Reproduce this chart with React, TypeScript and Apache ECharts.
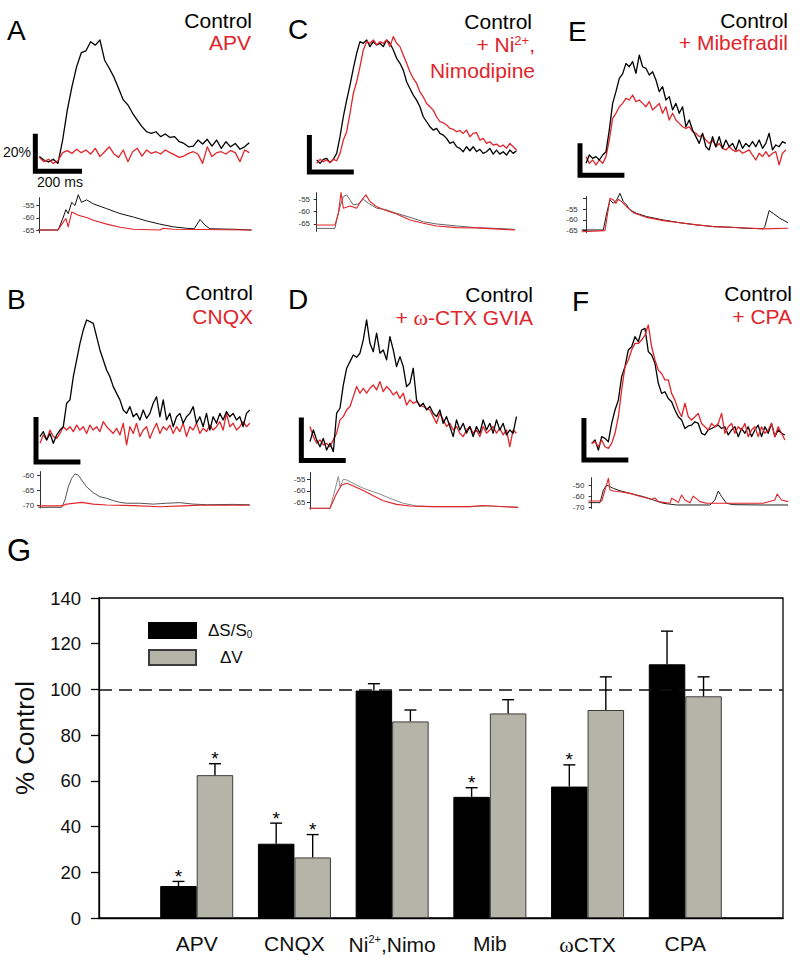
import { useEffect, useRef } from 'react';
import * as echarts from 'echarts';

const RED = '#e1252b';
const FONT = '"Liberation Sans", Arial, Helvetica, sans-serif';
const SCALE_PCT = 20; // vertical scale bar, % dS/S
const SCALE_MS = 200; // horizontal scale bar, ms

// ---------- Panel A : Control vs APV ----------
const A_DT = 20;
const A_CONTROL = [1.8, 0, -1, 0.4, -1.8, 10.6, 26.5, 39, 49.6, 57, 58, 62.8, 61, 63.7, 53, 48.7, 44, 38, 31.9, 29.2, 24.8, 21.2, 17.7, 15, 14.2, 15, 12.4, 13.8, 12, 12.4, 9.7, 8.8, 7, 7.4, 10.6, 8.5, 11, 7.4, 10.6, 6.2, 9.7, 7, 8.8, 5.7, 7, 9.2];
const A_APV = [1.4, -0.9, 0.4, -1.8, -0.4, 3.9, 5, 3.5, 5.7, 3.9, 5.3, 3.2, 6.2, 1.8, 4.4, 7, 3.2, 1.4, 5.3, -0.9, 4.4, 6.2, 2.1, 5.3, 3.5, 4.4, 3.2, 5.3, 3.9, 2.7, 1.4, 2.1, 3.5, 4.4, 3.2, -1.8, 7, 1.8, 3.9, 4.4, 3.2, 5, 3.9, -0.9, 5.3, 3.9];
const A_V_CONTROL = [[-4, -65], [81, -65], [103, -59.7], [114, -56.7], [124, -58.3], [139, -53.7], [153, -55], [167, -50.6], [181, -53.7], [203, -52.7], [231, -54.3], [289, -56.3], [346, -58.3], [403, -59.7], [460, -61.3], [517, -62.6], [574, -63.7], [631, -64.3], [664, -64.5], [689, -60.7], [710, -63], [731, -64.5], [831, -64.7], [910, -65]];
const A_V_APV = [[-4, -65], [81, -65], [103, -61.7], [114, -60.3], [124, -63.7], [139, -57.7], [167, -59], [203, -59.9], [231, -61], [289, -62.6], [346, -63.9], [403, -64.7], [517, -65], [531, -64.3], [574, -64.7], [910, -65]];

// ---------- Panel B : Control vs CNQX ----------
const B_DT = 15;
const B_CONTROL = [-0.7, 1.5, -2.2, 0.7, -3.7, 0, 2.2, 3.7, 14.1, 15.6, 25.9, 33.3, 40.7, 46.7, 51.1, 50.4, 49.6, 43.7, 37.8, 33.3, 28.9, 25.9, 21.5, 18.5, 15.6, 11.1, 9.6, 12.6, 8.1, 9.6, 6.7, 11.1, 7.4, 9.6, 14.1, 17, 8.1, 15.6, 6.7, 9.6, 3.7, 8.1, 9.6, 5.2, 8.1, 9.6, 12.6, 5.2, 8.1, 3.7, 9.6, 2.2, 8.1, 5.2, 9.6, 6.7, 10.4, 8.1, 9.6, 6.7, 8.1, 3.7, 9.6, 11.1];
const B_CNQX = [-3.7, 0, -2.2, 2.2, -0.7, -1.5, 0.7, 3.7, 2.2, 3.7, 1.5, 4.4, 2.2, 3.7, 0.7, 4.4, 2.2, 3.7, 1.5, 5.9, 3.7, 2.2, 0.7, 3, 0, 5.2, -4.4, 3.7, 0.7, 5.2, -0.7, 2.2, 3.7, -1.5, 2.2, 5.2, 0.7, 3.7, 2.2, 4.4, 0.7, 3.7, 1.5, 5.2, -0.7, 3.7, 2.2, 5.2, 0.7, 3, 1.5, 4.4, 2.2, 3.7, 5.9, 2.2, 9.6, 3.7, 5.2, 2.2, 3.7, 5.9, 3.7, 5.2];
const B_V_CONTROL = [[-7.5, -70.8], [97.5, -70.8], [112.5, -68.3], [127.5, -63.8], [142.5, -60.9], [157.5, -59.4], [172.5, -59.8], [187.5, -61.5], [210, -63.8], [240, -65.8], [270, -67.2], [300, -67.7], [330, -68.5], [360, -69.1], [390, -69.4], [450, -69.4], [510, -69.7], [570, -69.4], [630, -69.2], [690, -69.7], [750, -69.9], [870, -69.8], [945, -69.9]];
const B_V_CNQX = [[-7.5, -70.3], [97.5, -70.3], [120, -69.7], [187.5, -69.1], [240, -69.7], [300, -70], [420, -70.2], [540, -70.6], [645, -70.3], [720, -70.1], [945, -70.1]];

// ---------- Panel C : Control vs + Ni2+, Nimodipine ----------
const C_DT = 15;
const C_CONTROL = [0.9, -0.9, 1.3, 1.8, -0.5, 1.3, 4.5, 13.5, 24.3, 33.3, 41.4, 50.5, 58.6, 64.9, 64, 65.8, 62.2, 64.9, 63.1, 64, 62.2, 65.8, 64, 60.4, 55.9, 53.2, 49.5, 43.2, 39.6, 36, 33.3, 29.7, 24.3, 21.6, 18.9, 17.1, 18, 15.3, 14.4, 12.6, 9.9, 10.8, 8.1, 7.2, 5.4, 8.1, 5.9, 8.1, 5.4, 6.7, 4.5, 5.4, 7.2, 4.1, 6.3, 4.1, 5.4, 3.6, 6.3, 4.5, 5.9];
const C_NI = [-0.9, 1.3, 0, 0.9, -0.5, 1.3, 0.5, 4.5, 11.7, 16.2, 26.1, 36.9, 43.2, 51.4, 60.4, 64.9, 64, 65.8, 63.1, 64.9, 64, 65.8, 62.2, 67.6, 64, 62.2, 57.7, 53.2, 48.6, 45, 42.3, 37.8, 35.1, 31.5, 29.7, 27.9, 24.3, 21.6, 21.1, 19.8, 18, 17.5, 16.2, 16.8, 15.3, 17.1, 13.5, 15.3, 15.7, 11.7, 12.6, 9.9, 10.8, 9, 9.5, 8.1, 9, 7.2, 9.9, 8.1, 6.3];
const C_V_CONTROL = [[-3, -66.8], [82.5, -66.8], [90, -63.4], [105, -58], [120, -53.9], [135, -53.2], [150, -55.3], [165, -57.3], [187.5, -56.9], [210, -55], [232.5, -56.6], [270, -58.6], [315, -59.3], [360, -60.7], [420, -62.3], [480, -64.1], [540, -65], [630, -65.8], [720, -66.5], [840, -66.9], [892.5, -67.2]];
const C_V_NI = [[-3, -65.4], [82.5, -65.4], [97.5, -60.7], [109.5, -52.3], [120, -58.6], [150, -57.7], [180, -58.6], [202.5, -55.3], [222, -53.2], [240, -55.9], [270, -58], [315, -59.6], [360, -61], [420, -63.4], [480, -64.7], [540, -65.8], [630, -66.5], [720, -66.6], [840, -67.2], [892.5, -67.4]];

// ---------- Panel D : Control vs + w-CTX GVIA ----------
const D_DT = 15;
const D_CONTROL = [0.8, 6.2, 1.6, -1.6, 2.3, -3.1, 0, -3.9, 14, 16.3, 27.1, 34.9, 38, 41.1, 40, 41.9, 48.1, 57.4, 46.5, 42.6, 51.2, 41.9, 43.4, 38.8, 49.6, 43.4, 35.7, 40.3, 35.7, 26.4, 27.9, 34.9, 20.2, 17.1, 18.6, 15.5, 17.1, 14, 12.4, 15.5, 9.3, 12.4, 7.8, 3.1, 10.9, 6.2, 9.3, 4.7, 7.8, 3.1, 7.8, 4.7, 10.9, 6.2, 9.3, 4.7, 10.9, 6.2, 9.3, 3.9, 6.2, 4.7, 12.4];
const D_CTX = [7.8, 3.1, 0, 1.6, -0.8, 0, -1.6, 1.6, 4.7, 10.9, 12.4, 15.5, 17.1, 21.7, 26.4, 23.3, 25.6, 23.3, 25.6, 27.1, 24.8, 28.7, 24, 26.4, 24.8, 22.5, 24, 20.9, 23.3, 17.8, 20.2, 18.6, 19.4, 17.8, 17.1, 16.3, 15.5, 12.4, 9.3, 14, 10.9, 7.8, 9.3, 6.2, 7.8, 4.7, 3.1, 6.2, 7.8, 4.7, 6.2, 3.1, 7.8, 4.7, 6.2, 7.8, 4.7, 7, 3.9, 6.2, -1.6, 6.2, 4.7];
const D_V_CONTROL = [[-3, -67.6], [90, -67.6], [112.5, -59.6], [127.5, -53.8], [135, -58.2], [150, -55], [165, -55.3], [180, -56], [210, -57.5], [240, -58.9], [270, -59.9], [315, -61.4], [360, -63.3], [420, -65.4], [480, -66.6], [570, -66.9], [720, -66.9], [795, -66.6], [937.5, -67.2]];
const D_V_CTX = [[-3, -67.6], [90, -67.6], [120, -61.1], [142.5, -57.5], [165, -56.7], [195, -57.9], [240, -59.9], [285, -62.2], [330, -64.3], [390, -65.9], [450, -66.6], [540, -66.9], [720, -66.9], [780, -66.4], [937.5, -67.2]];

// ---------- Panel E : Control vs + Mibefradil ----------
const E_DT = 15;
const E_CONTROL = [-2.1, 3.1, 1, 2.1, 0, 3.1, 5.2, 18.8, 35.4, 42.7, 51, 53.8, 60.4, 58.3, 61.5, 54.2, 65.6, 58.3, 57.3, 53.1, 55.2, 50, 42.7, 45.8, 37.5, 39.6, 31.3, 35.4, 29.2, 33.3, 20.8, 25, 18.8, 14.6, 10.4, 16.7, 8.3, 6.3, 14.6, 8.3, 14.6, 7.3, 12.5, 8.3, 10.4, 6.3, 12.5, 7.3, 10.4, 8.3, 11.5, 8.3, 12.5, 7.3, 10.4, 16.7, 6.3, 9.4, 8.3, 11.5, 10.4];
const E_MIB = [2.1, -2.1, 0, -3.1, 0, -2.1, 2.1, 12.5, 26, 29.2, 33.3, 35.4, 38.5, 37.5, 40.6, 36.5, 37.5, 35.4, 33.3, 36.5, 31.3, 33.3, 35.4, 29.2, 33.3, 25, 29.2, 25, 22.9, 20.8, 19.8, 20.8, 17.7, 16.7, 14.6, 15.6, 12.5, 10.4, 12.5, 8.3, 10.4, 7.3, 6.3, 8.3, 6.3, 5.2, 6.3, 4.2, 5.2, 6.3, 3.1, 0, 4.2, 2.1, 5.2, 2.1, 4.2, 5.2, -3.1, 4.2, 6.3];
const E_V_CONTROL = [[-19.5, -64.7], [78, -64.7], [93, -56.9], [108, -50.6], [123, -52.2], [138, -50.6], [153, -47.5], [168, -51.4], [183, -53], [198, -55.3], [228, -56.9], [273, -58.4], [348, -60], [423, -61.3], [498, -62.3], [573, -63.1], [648, -63.4], [723, -63.9], [798, -64.1], [805.5, -63.1], [825, -55.6], [843, -56.9], [873, -59.2], [910.5, -61.3]];
const E_V_MIB = [[-19.5, -65.5], [85.5, -65], [108, -49.8], [123, -50.6], [135, -52.2], [145.5, -50.3], [160.5, -51.4], [183, -53.8], [213, -56.6], [273, -58.8], [348, -60.3], [423, -61.3], [498, -62.3], [573, -63.1], [648, -63.4], [723, -63.8], [798, -64.2], [910.5, -63.9]];

// ---------- Panel F : Control vs + CPA ----------
const F_DT = 15;
const F_CONTROL = [-0.8, 0.8, -4, 2.4, 1.6, 0, 8.7, 15.1, 19.8, 31, 35.7, 43.7, 45.2, 50, 47.6, 53.2, 54, 42.9, 41.3, 37.3, 27.8, 23, 23.8, 20.6, 19, 15.1, 11.9, 10.3, 6.3, 7.5, 7.9, 9.5, 8.7, 4, 3.2, 5.6, 6.3, 7.1, 7.9, 6.3, 7.1, 3.2, 5.6, 7.1, 2.4, 6.3, 4, 7.1, 2.4, 5.6, 7.9, 2.4, 7.1, 4, 8.7, 2.4, 5.6, 4, 3.2];
const F_CPA = [-0.8, 0, -2.4, 0.8, -2.4, -3.2, -0.8, 4, 11.9, 24.6, 35.7, 38.9, 43.7, 46.8, 46.8, 48.4, 50.8, 55.6, 45.2, 38.9, 34.1, 32.5, 29.4, 29.4, 23, 19.8, 15.1, 11.9, 18.3, 11.9, 10.3, 11.9, 13.5, 8.7, 7.1, 5.6, 8.7, 7.1, 8.7, 13.5, 4, 7.1, 8.7, 4, 7.1, 5.6, 8.7, 2.4, 5.6, 7.1, 2.4, 7.1, 4, 5.6, 8.7, 2.4, 7.1, 4, 0.8];
const F_V_CONTROL = [[-15, -65.8], [37.5, -65.8], [52.5, -54.5], [67.5, -50], [82.5, -51.5], [97.5, -53], [127.5, -55.1], [172.5, -57.5], [232.5, -60.4], [277.5, -63.4], [322.5, -66.4], [382.5, -67.9], [532.5, -67.9], [555, -63.4], [570, -55.4], [585, -60.4], [607.5, -66.4], [637.5, -67.6], [772.5, -67.9], [885, -67.9]];
const F_V_CPA = [[-15, -64.3], [45, -64.3], [60, -54.5], [75, -44], [82.5, -54.5], [97.5, -55.4], [127.5, -56], [172.5, -57.5], [232.5, -61], [270, -62.8], [285, -61.6], [300, -64.9], [352.5, -66.4], [360, -61.9], [375, -63.4], [390, -65.8], [405, -59], [420, -63.4], [442.5, -65.8], [457.5, -59.9], [487.5, -64.9], [517.5, -66.4], [622.5, -66.4], [772.5, -66.4], [825, -63.4], [835.5, -58.1], [855, -63.4], [885, -64.9]];

// ---------- Panel G : summary bars ----------
const G_CATEGORIES = ['APV', 'CNQX', 'Ni2+,Nimo', 'Mib', 'ωCTX', 'CPA'];
const G_DS = [14, 32.5, 99.5, 53, 57.5, 111];
const G_DS_ERR = [2, 9, 3, 4, 9.5, 14.5];
const G_DS_SIG = [1, 1, 0, 1, 1, 0];
const G_DV = [62.5, 26.5, 86, 89.5, 91, 97];
const G_DV_ERR = [5, 10, 5, 6, 14.5, 8.5];
const G_DV_SIG = [1, 1, 0, 0, 0, 0];
const G_REF = 100;

// ---------- layout (positions / styles only) ----------
const PANELS: any[] = [
  { letter: 'A', lx: 7, ly: 30,
    legend: [{ t: 'Control', c: '#000', x: 252, y: 20 }, { t: 'APV', c: RED, x: 251, y: 42 }],
    x0: 39.3, pxMs: 0.2333, baseY: 160, pxPct: 1.883, dt: A_DT, ctrl: A_CONTROL, drug: A_APV, drugTop: true,
    barT: -17, barLow: -6,
    vAxisT: -4, vRef: -65, vRefY: 230, pxMv: 2.45, vMin: -66.2, vMax: -51.8, vTicks: [-65, -60, -55], vLabels: [-65, -60, -55],
    vCtrl: A_V_CONTROL, vDrug: A_V_APV, vColor: '#111' },
  { letter: 'B', lx: 7, ly: 299,
    legend: [{ t: 'Control', c: '#000', x: 253, y: 292 }, { t: 'CNQX', c: RED, x: 253, y: 316 }],
    x0: 40, pxMs: 0.222, baseY: 435, pxPct: 2.25, dt: B_DT, ctrl: B_CONTROL, drug: B_CNQX, drugTop: false,
    barT: -18, barLow: -12,
    vAxisT: -8, vRef: -70, vRefY: 505, pxMv: 2.93, vMin: -71, vMax: -58.6, vTicks: [-70, -65, -60], vLabels: [-70, -65, -60],
    vCtrl: B_V_CONTROL, vDrug: B_V_CNQX, vColor: '#555' },
  { letter: 'C', lx: 288, ly: 29,
    legend: [{ t: 'Control', c: '#000', x: 532, y: 21 }, { t: '+ Ni{s|2+},', c: RED, x: 535, y: 44 }, { t: 'Nimodipine', c: RED, x: 535, y: 70 }],
    x0: 316.7, pxMs: 0.222, baseY: 161.7, pxPct: 1.85, dt: C_DT, ctrl: C_CONTROL, drug: C_NI, drugTop: true,
    barT: -33, barLow: -5.5,
    vAxisT: -12, vRef: -55, vRefY: 199.3, pxMv: 2.467, vMin: -68, vMax: -52.3, vTicks: [-65, -60, -55], vLabels: [-65, -60, -55],
    vCtrl: C_V_CONTROL, vDrug: C_V_NI, vColor: '#666' },
  { letter: 'D', lx: 288, ly: 299,
    legend: [{ t: 'Control', c: '#000', x: 533, y: 294 }, { t: '+ {w|ω}-CTX GVIA', c: RED, x: 533, y: 317.5 }],
    x0: 310, pxMs: 0.222, baseY: 443.3, pxPct: 2.15, dt: D_DT, ctrl: D_CONTROL, drug: D_CTX, drugTop: false,
    barT: -39, barLow: -8,
    vAxisT: -3, vRef: -55, vRefY: 479.3, pxMv: 2.3, vMin: -68, vMax: -52, vTicks: [-65, -60, -55], vLabels: [-65, -60, -55],
    vCtrl: D_V_CONTROL, vDrug: D_V_CTX, vColor: '#8a8a8a' },
  { letter: 'E', lx: 568, ly: 31,
    legend: [{ t: 'Control', c: '#000', x: 788, y: 20 }, { t: '+ Mibefradil', c: RED, x: 788, y: 42.5 }],
    x0: 586, pxMs: 0.222, baseY: 160, pxPct: 1.6, dt: E_DT, ctrl: E_CONTROL, drug: E_MIB, drugTop: false,
    barT: -27, barLow: -9.5,
    vAxisT: -19, vRef: -55, vRefY: 209.3, pxMv: 2.133, vMin: -66, vMax: -49, vTicks: [-65, -60, -55, -50], vLabels: [-65, -60, -55],
    vCtrl: E_V_CONTROL, vDrug: E_V_MIB, vColor: '#111' },
  { letter: 'F', lx: 572, ly: 301,
    legend: [{ t: 'Control', c: '#000', x: 792, y: 293.5 }, { t: '+ CPA', c: RED, x: 792, y: 316.5 }],
    x0: 591.7, pxMs: 0.222, baseY: 441.7, pxPct: 2.1, dt: F_DT, ctrl: F_CONTROL, drug: F_CPA, drugTop: true,
    barT: -35, barLow: -8.7,
    vAxisT: -15, vRef: -50, vRefY: 485, pxMv: 1.117, vMin: -71, vMax: -43.5, vTicks: [-70, -60, -50], vLabels: [-70, -60, -50],
    vCtrl: F_V_CONTROL, vDrug: F_V_CPA, vColor: '#222' },
];

const BAR_W = 36.5;
const CAP_W = 12;

function txt(text: string, x: number, y: number, size: number, color: string, align = 'left', extra: any = {}) {
  return {
    type: 'text', x, y, silent: true, z: 50,
    style: {
      text, fill: color, font: `${size}px ${FONT}`,
      textAlign: align, textVerticalAlign: 'middle', align, verticalAlign: 'middle',
      ...extra,
    },
  };
}

function buildOption() {
  const grid: any[] = [];
  const xAxis: any[] = [];
  const yAxis: any[] = [];
  const series: any[] = [];
  const graphic: any[] = [];

  const lineSeries = (gi: number, data: number[][], color: string, width: number) => ({
    type: 'line', xAxisIndex: gi, yAxisIndex: gi, data, symbol: 'none', silent: true, clip: false,
    lineStyle: { color, width, join: 'round' }, z: 3,
  });

  PANELS.forEach((p) => {
    // fluorescence traces
    const gi = grid.length;
    const n = Math.max(p.ctrl.length, p.drug.length);
    const tMin = p.barT - 6;
    const tMax = (n - 1) * p.dt + 6;
    const all = p.ctrl.concat(p.drug);
    const pMax = Math.max(...all) + 4;
    const pMin = Math.min(p.barLow, ...all) - 4;
    grid.push({ left: p.x0 + tMin * p.pxMs, top: p.baseY - pMax * p.pxPct, width: (tMax - tMin) * p.pxMs, height: (pMax - pMin) * p.pxPct });
    xAxis.push({ gridIndex: gi, type: 'value', min: tMin, max: tMax, show: false });
    yAxis.push({ gridIndex: gi, type: 'value', min: pMin, max: pMax, show: false });
    const ctrl = lineSeries(gi, p.ctrl.map((v: number, i: number) => [i * p.dt, v]), '#000', 1.3);
    const drug = lineSeries(gi, p.drug.map((v: number, i: number) => [i * p.dt, v]), RED, 1.3);
    if (p.drugTop) series.push(ctrl, drug); else series.push(drug, ctrl);
    series.push({
      type: 'line', xAxisIndex: gi, yAxisIndex: gi, symbol: 'none', silent: true, clip: false,
      data: [[p.barT, p.barLow + SCALE_PCT], [p.barT, p.barLow], [p.barT + SCALE_MS, p.barLow]],
      lineStyle: { color: '#000', width: 5, join: 'miter', cap: 'butt' }, z: 4,
    });

    // membrane potential traces
    const vi = grid.length;
    const tMaxV = Math.max(...p.vCtrl.map((d: number[]) => d[0]), ...p.vDrug.map((d: number[]) => d[0])) + 2;
    grid.push({ left: p.x0 + p.vAxisT * p.pxMs, top: p.vRefY - (p.vMax - p.vRef) * p.pxMv, width: (tMaxV - p.vAxisT) * p.pxMs, height: (p.vMax - p.vMin) * p.pxMv });
    xAxis.push({ gridIndex: vi, type: 'value', min: p.vAxisT, max: tMaxV, show: false });
    yAxis.push({
      gridIndex: vi, type: 'value', min: p.vMin, max: p.vMax,
      axisLine: { show: true, lineStyle: { color: '#333', width: 1 } },
      axisTick: { show: true, length: 3, customValues: p.vTicks, lineStyle: { color: '#333', width: 1 } },
      axisLabel: { show: true, customValues: p.vLabels, fontSize: 8, color: '#333', margin: 4, fontFamily: FONT },
      splitLine: { show: false },
    });
    series.push(lineSeries(vi, p.vCtrl, p.vColor, 1));
    series.push(lineSeries(vi, p.vDrug, RED, 1.1));

    // texts
    graphic.push(txt(p.letter, p.lx, p.ly, 28, '#000'));
    p.legend.forEach((l: any) => {
      graphic.push(txt(l.t, l.x, l.y, 21, l.c, 'right', {
        rich: {
          s: { fontSize: 13, fontFamily: FONT, fill: l.c, color: l.c, verticalAlign: 'top', padding: [0, 0, 8, 0] },
          w: { fontSize: 22, fontFamily: '"Liberation Serif", serif', fill: l.c, color: l.c },
        },
      }));
    });
  });

  // scale bar labels (panel A)
  graphic.push(txt(`${SCALE_PCT}%`, 31, 152, 14, '#111', 'right'));
  graphic.push(txt(`${SCALE_MS} ms`, 37, 182, 14, '#111', 'left'));

  // ---------- Panel G ----------
  const gi = grid.length;
  grid.push({ left: 99, top: 598, width: 684, height: 320, show: true, borderColor: '#000', borderWidth: 1.3, backgroundColor: 'transparent' });
  xAxis.push({
    gridIndex: gi, type: 'category', data: ['', ...G_CATEGORIES, ''], boundaryGap: false,
    axisLine: { show: true, lineStyle: { color: '#000', width: 1.3 } },
    axisTick: { show: false },
    splitLine: { show: false },
    axisLabel: {
      interval: 0, margin: 15, color: '#111', fontSize: 21, fontFamily: FONT,
      formatter: (v: string) => {
        if (v === 'Ni2+,Nimo') return '{a|Ni}{s|2+}{a|,Nimo}';
        if (v === 'ωCTX') return '{w|ω}{a|CTX}';
        return v ? `{a|${v}}` : '';
      },
      rich: {
        a: { fontSize: 21, fontFamily: FONT, color: '#111' },
        s: { fontSize: 11, fontFamily: FONT, color: '#111', verticalAlign: 'top', padding: [0, 0, 12, 0] },
        w: { fontSize: 22, fontFamily: '"Liberation Serif", serif', color: '#111' },
      },
    },
  });
  yAxis.push({
    gridIndex: gi, type: 'value', min: 0, max: 140, interval: 20,
    axisLine: { show: true, lineStyle: { color: '#000', width: 1.3 } },
    axisTick: { show: true, inside: false, length: 8, lineStyle: { color: '#000', width: 1.3 } },
    axisLabel: { fontSize: 18.5, color: '#111', margin: 18, fontFamily: FONT },
    splitLine: { show: false },
  });
  const pad = (a: number[]) => [null, ...a, null];
  series.push({
    type: 'bar', name: 'ΔS/S0', xAxisIndex: gi, yAxisIndex: gi, data: pad(G_DS), barWidth: BAR_W, barGap: '0%',
    itemStyle: { color: '#000', borderColor: '#000', borderWidth: 1 }, silent: true,
    markLine: {
      silent: true, symbol: 'none', label: { show: false },
      lineStyle: { color: '#111', type: [13, 7], width: 1.5 },
      data: [{ yAxis: G_REF }],
    },
  });
  series.push({
    type: 'bar', name: 'ΔV', xAxisIndex: gi, yAxisIndex: gi, data: pad(G_DV), barWidth: BAR_W, barGap: '0%',
    itemStyle: { color: '#b4b4a9', borderColor: '#3c3c3c', borderWidth: 1 }, silent: true,
  });
  const errData = [
    ...G_DS.map((v, i) => [i + 1, v, G_DS_ERR[i], G_DS_SIG[i], -1]),
    ...G_DV.map((v, i) => [i + 1, v, G_DV_ERR[i], G_DV_SIG[i], 1]),
  ];
  series.push({
    type: 'custom', xAxisIndex: gi, yAxisIndex: gi, data: errData, silent: true, z: 10,
    renderItem: (_params: any, api: any) => {
      const c = api.value(0), v = api.value(1), e = api.value(2), sig = api.value(3), side = api.value(4);
      const base = api.coord([c, v]);
      const top = api.coord([c, v + e]);
      const x = base[0] + side * BAR_W / 2;
      const children: any[] = [
        { type: 'line', shape: { x1: x, y1: base[1], x2: x, y2: top[1] }, style: { stroke: '#000', lineWidth: 1.4 } },
        { type: 'line', shape: { x1: x - CAP_W / 2, y1: top[1], x2: x + CAP_W / 2, y2: top[1] }, style: { stroke: '#000', lineWidth: 1.4 } },
      ];
      if (sig) {
        children.push({
          type: 'text', x, y: top[1] - 5,
          style: { text: '*', fill: '#000', font: `19px ${FONT}`, align: 'center', verticalAlign: 'middle', textAlign: 'center', textVerticalAlign: 'middle' },
        });
      }
      return { type: 'group', children };
    },
  });

  graphic.push(txt('G', 7, 550, 31, '#000'));
  graphic.push({
    type: 'text', x: 25, y: 738, rotation: Math.PI / 2, silent: true,
    style: { text: '% Control', fill: '#111', font: `26px ${FONT}`, align: 'center', verticalAlign: 'middle', textAlign: 'center', textVerticalAlign: 'middle' },
  });

  return {
    animation: false,
    backgroundColor: '#fff',
    textStyle: { fontFamily: FONT },
    grid, xAxis, yAxis, series, graphic,
    legend: {
      data: ['ΔS/S0', 'ΔV'], orient: 'vertical', left: 143, top: 617, itemWidth: 47, itemHeight: 15, itemGap: 10,
      icon: 'rect', selectedMode: false,
      formatter: (name: string) => (name === 'ΔS/S0' ? '{a|ΔS/S}{b|0}' : '{c|ΔV}'),
      textStyle: {
        rich: {
          a: { fontSize: 17, fontFamily: FONT, color: '#111', padding: [0, 0, 0, 7] },
          b: { fontSize: 10, fontFamily: FONT, color: '#111', verticalAlign: 'bottom', padding: [6, 0, 0, 0] },
          c: { fontSize: 17, fontFamily: FONT, color: '#111', padding: [0, 0, 0, 19] },
        },
      },
    },
  };
}

export default function App() {
  const ref = useRef<HTMLDivElement>(null);
  useEffect(() => {
    if (!ref.current) return;
    const chart = echarts.init(ref.current, null, { renderer: 'svg' });
    chart.setOption(buildOption() as any);
    return () => chart.dispose();
  }, []);
  return <div ref={ref} style={{ position: 'fixed', left: 0, top: 0, width: 800, height: 960, background: '#fff' }} />;
}
